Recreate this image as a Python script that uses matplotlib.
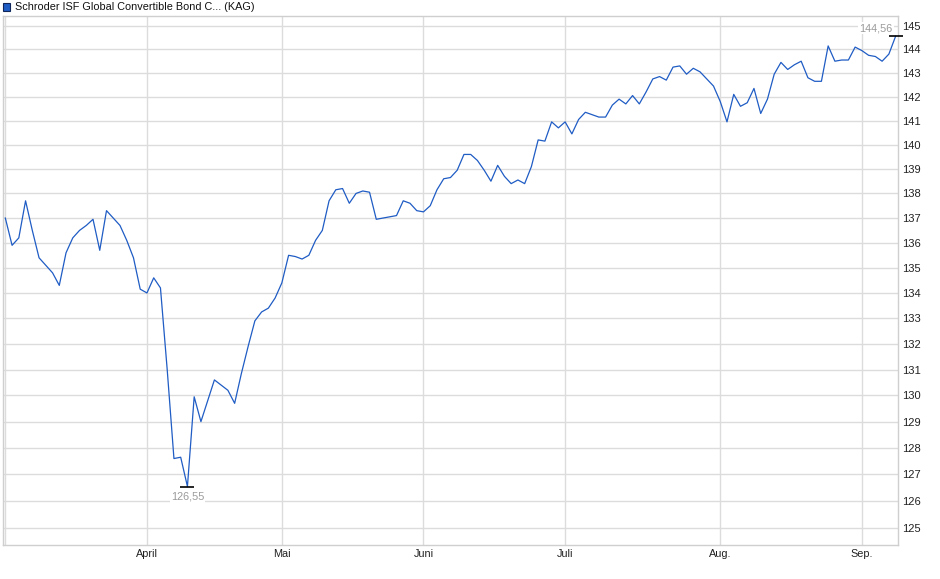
import numpy as np
import pandas as pd
import matplotlib
matplotlib.use('Agg')
import matplotlib.pyplot as plt
from matplotlib.patches import Rectangle
from matplotlib.ticker import FixedLocator, NullLocator, FuncFormatter

plt.rcParams['font.family'] = ['Liberation Sans', 'DejaVu Sans']

# Kursverlauf (Handelstage ab Anfang März)
start_date = '2025-03-03'
holidays = ['2025-04-18', '2025-04-21', '2025-05-01']
prices = [
    137.0, 135.9, 136.2, 137.7, 136.5, 135.4, 135.1, 134.8, 134.3, 135.6,
    136.2, 136.5, 136.7, 136.95, 135.7, 137.3, 137.0, 136.7, 136.1, 135.4,
    134.15, 134.0, 134.6, 134.2,
    131.0, 127.6, 127.65, 126.55, 129.95, 129.0, 129.8, 130.6, 130.4, 130.2,
    129.7, 130.85, 131.9, 132.9, 133.25, 133.4, 133.8, 134.4, 135.5,
    135.45, 135.35, 135.5, 136.1, 136.5, 137.7, 138.15, 138.2, 137.6, 138.0,
    138.1, 138.05, 136.95, 137.0, 137.05, 137.1, 137.7, 137.6, 137.3, 137.25,
    137.5,
    138.15, 138.6, 138.65, 138.95, 139.6, 139.6, 139.35, 138.95, 138.5, 139.15,
    138.7, 138.4, 138.55, 138.4, 139.1, 140.2, 140.15, 140.95, 140.7, 140.95,
    140.45, 141.05,
    141.35, 141.25, 141.15, 141.15, 141.65, 141.9, 141.7, 142.05, 141.7, 142.2,
    142.75, 142.85, 142.7, 143.25, 143.3, 142.95, 143.2, 143.05, 142.75, 142.45,
    141.8, 140.95,
    142.1, 141.6, 141.75, 142.35, 141.3, 141.9, 142.95, 143.45, 143.15, 143.35,
    143.5, 142.8, 142.65, 142.65, 144.15, 143.5, 143.55, 143.55, 144.1, 143.95,
    143.75, 143.7, 143.5, 143.8, 144.56,
]
month_names = {3: '', 4: 'April', 5: 'Mai', 6: 'Juni', 7: 'Juli', 8: 'Aug.', 9: 'Sep.'}
y_ticks = list(range(125, 146))
title = "Schroder ISF Global Convertible Bond C... (KAG)"

LINE = '#1f5cc4'
GRID = '#dcdcdc'
FS = 7.8

dates = pd.bdate_range(start=start_date, periods=len(prices), freq='C', holidays=holidays)
x = np.arange(len(prices))
y = np.array(prices)

# erster Handelstag je Monat
month_idx = [i for i in range(len(dates)) if i == 0 or dates[i].month != dates[i - 1].month]
month_lbl = [month_names[dates[i].month] for i in month_idx]

fig = plt.figure(figsize=(9.4, 5.79), dpi=100)
ax = fig.add_axes([2.7 / 940, 1 - 545.3 / 579, (898.3 - 2.7) / 940, (545.3 - 16) / 579])

ax.plot(x, y, color=LINE, lw=0.9, zorder=3)

ax.set_yscale('log')
ax.set_ylim(124.37, 145.43)
ax.set_xlim(-0.39, 132.4)

ax.yaxis.set_major_locator(FixedLocator(y_ticks))
ax.yaxis.set_minor_locator(NullLocator())
ax.yaxis.set_major_formatter(FuncFormatter(lambda v, p: f"{v:.0f}"))
ax.yaxis.tick_right()
ax.xaxis.set_major_locator(FixedLocator(month_idx))
ax.xaxis.set_minor_locator(NullLocator())
ax.set_xticklabels(month_lbl)
ax.tick_params(axis='y', length=0, pad=3, labelsize=FS + 0.2, colors='#222222')
ax.tick_params(axis='x', length=0, pad=3, labelsize=FS, colors='#222222')

ax.grid(True, color=GRID, lw=1.0, zorder=0)
for s in ax.spines.values():
    s.set_color('#cfcfcf')
    s.set_linewidth(1.0)

# Hoch / Tief markieren
i_min = int(np.argmin(y))
i_last = len(y) - 1
ax.plot([i_min], [y[i_min]], marker='_', ms=10, mew=1.2, color='black', zorder=4)
ax.plot([i_last], [y[i_last]], marker='_', ms=10, mew=1.2, color='black', zorder=4, clip_on=False)
ax.annotate(f"{y[i_min]:.2f}".replace('.', ','), (x[i_min], y[i_min]),
            xytext=(0, -10), textcoords='offset pixels', ha='center', va='center',
            fontsize=FS, color='#9a9a9a',
            bbox=dict(boxstyle='square,pad=0.1', fc='white', ec='none'), zorder=5)
ax.annotate(f"{y[i_last]:.2f}".replace('.', ','), (x[i_last], y[i_last]),
            xytext=(-3, 8), textcoords='offset pixels', ha='right', va='center',
            fontsize=FS, color='#9a9a9a',
            bbox=dict(boxstyle='square,pad=0.1', fc='white', ec='none'), zorder=5)

# Legende oben links
fig.patches.append(Rectangle((3 / 940, 1 - 10.5 / 579), 7 / 940, 7 / 579,
                             transform=fig.transFigure, fc='#1f5cc4', ec='#10265a', lw=0.8))
fig.text(15 / 940, 1 - 6.5 / 579, title, ha='left', va='center', fontsize=FS, color='#111111')

fig.savefig('out.png', dpi=100)
